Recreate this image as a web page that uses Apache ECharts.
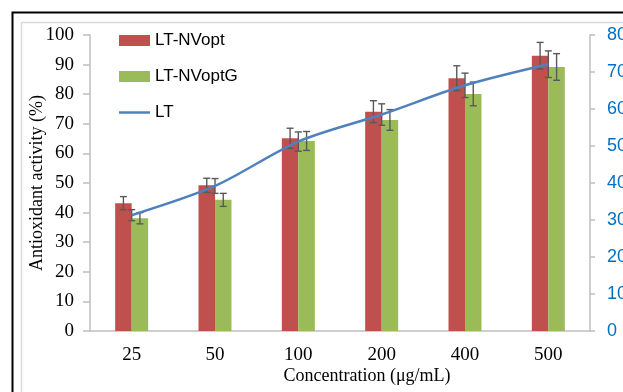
<!DOCTYPE html>
<html>
<head>
<meta charset="utf-8">
<script src="https://cdn.jsdelivr.net/npm/echarts@6/dist/echarts.min.js"></script>
<style>
  html, body { margin: 0; padding: 0; background: #fff; }
  #chart { width: 623px; height: 392px; }
</style>
</head>
<body>
<div id="chart"></div>
<script>
// Concentrations on the category axis
const concentrations = ['25', '50', '100', '200', '400', '500'];

// Antioxidant activity (%) with standard deviations, left axis
const nvoptValues = [43.2, 49.2, 65.1, 74.1, 85.4, 93.0];
const nvoptErrors = [2.2, 2.4, 3.4, 3.7, 4.2, 4.5];
const nvoptGValues = [38.1, 44.3, 64.2, 71.3, 80.1, 89.2];
const nvoptGErrors = [1.9, 2.2, 3.2, 3.5, 4.0, 4.5];

// LT series, plotted against the right axis
const ltValues = [31.3, 39.2, 51.2, 58.5, 66.4, 72.1];
const ltErrors = [1.5, 2.0, 2.6, 2.9, 3.3, 3.6];

const leftTicks = { min: 0, max: 100, interval: 10 };
const rightTicks = { min: 0, max: 80, interval: 10 };

const BAR_W = 16.5;
const CAP_W = 7;

function errorSeries(name, values, errors, axisIndex, shift) {
  return {
    type: 'custom',
    name: name,
    yAxisIndex: axisIndex,
    z: 4,
    silent: true,
    data: values.map((v, i) => [i, v - errors[i], v + errors[i]]),
    renderItem: function (params, api) {
      const lo = api.coord([api.value(0), api.value(1)]);
      const hi = api.coord([api.value(0), api.value(2)]);
      const x = lo[0] + shift;
      const style = { stroke: '#595959', lineWidth: 1.4 };
      return {
        type: 'group',
        children: [
          { type: 'line', shape: { x1: x, y1: hi[1], x2: x, y2: lo[1] }, style: style },
          { type: 'line', shape: { x1: x - CAP_W / 2, y1: hi[1], x2: x + CAP_W / 2, y2: hi[1] }, style: style },
          { type: 'line', shape: { x1: x - CAP_W / 2, y1: lo[1], x2: x + CAP_W / 2, y2: lo[1] }, style: style }
        ]
      };
    }
  };
}

const chart = echarts.init(document.getElementById('chart'), null, { renderer: 'canvas' });

chart.setOption({
  animation: false,
  backgroundColor: '#ffffff',
  grid: { left: 90, right: 33, top: 35, bottom: 61, containLabel: false, outerBoundsMode: 'none' },
  graphic: [
    {
      type: 'rect', z: 0, silent: true,
      shape: { x: 12.5, y: 12.5, width: 700, height: 500 },
      style: { fill: 'none', stroke: '#000', lineWidth: 2 }
    },
    {
      type: 'rect', z: 0, silent: true,
      shape: { x: 21.5, y: 22.5, width: 700, height: 500 },
      style: { fill: 'none', stroke: '#d9d9d9', lineWidth: 1.5 }
    },
    {
      type: 'text', z: 5, silent: true,
      x: 367, y: 376,
      style: {
        text: 'Concentration (μg/mL)',
        font: '18px "Liberation Serif", "Times New Roman", serif',
        fill: '#000', align: 'center', verticalAlign: 'middle'
      }
    },
    {
      type: 'text', z: 5, silent: true,
      x: 37, y: 183, rotation: Math.PI / 2,
      style: {
        text: 'Antioxidant activity (%)',
        font: '18px "Liberation Serif", "Times New Roman", serif',
        fill: '#000', align: 'center', verticalAlign: 'middle'
      }
    }
  ],
  legend: {
    orient: 'vertical',
    left: 119, top: 32,
    padding: 0,
    itemWidth: 31, itemHeight: 11,
    itemGap: 19,
    symbolKeepAspect: true,
    textStyle: { fontFamily: '"Liberation Sans", Arial, sans-serif', fontSize: 17, color: '#000' },
    data: [
      { name: 'LT-NVopt', icon: 'rect' },
      { name: 'LT-NVoptG', icon: 'rect' },
      { name: 'LT', icon: 'path://M0,0h31v2.5h-31z' }
    ]
  },
  xAxis: {
    type: 'category',
    data: concentrations,
    axisLine: { lineStyle: { color: '#bfbfbf', width: 1.5 } },
    axisTick: { show: false },
    axisLabel: {
      margin: 15,
      fontFamily: '"Liberation Serif", "Times New Roman", serif',
      fontSize: 19, color: '#000'
    }
  },
  yAxis: [
    {
      type: 'value',
      min: leftTicks.min, max: leftTicks.max, interval: leftTicks.interval,
      splitLine: { show: false },
      axisLine: { show: true, lineStyle: { color: '#bfbfbf', width: 1.5 } },
      axisTick: { show: true, length: 7, lineStyle: { color: '#bfbfbf', width: 1.5 } },
      axisLabel: {
        margin: 16,
        fontFamily: '"Liberation Serif", "Times New Roman", serif',
        fontSize: 19, color: '#000'
      }
    },
    {
      type: 'value',
      position: 'right',
      min: rightTicks.min, max: rightTicks.max, interval: rightTicks.interval,
      splitLine: { show: false },
      axisLine: { show: true, lineStyle: { color: '#bfbfbf', width: 1.5 } },
      axisTick: { show: true, length: 5, lineStyle: { color: '#bfbfbf', width: 1.5 } },
      axisLabel: {
        margin: 17,
        fontFamily: '"Liberation Sans", Arial, sans-serif',
        fontSize: 18, color: '#0070c0'
      }
    }
  ],
  series: [
    {
      name: 'LT-NVopt',
      type: 'bar',
      data: nvoptValues,
      barWidth: BAR_W,
      barGap: '0%',
      itemStyle: { color: '#c0504d' },
      z: 2
    },
    {
      name: 'LT-NVoptG',
      type: 'bar',
      data: nvoptGValues,
      barWidth: BAR_W,
      barGap: '0%',
      itemStyle: { color: '#9bbb59' },
      z: 2
    },
    {
      name: 'LT',
      type: 'line',
      yAxisIndex: 1,
      data: ltValues,
      smooth: 0.3,
      symbol: 'none',
      lineStyle: { color: '#4f81bd', width: 2.5 },
      itemStyle: { color: '#4f81bd' },
      z: 5
    },
    errorSeries('err-nvopt', nvoptValues, nvoptErrors, 0, -BAR_W / 2),
    errorSeries('err-nvoptg', nvoptGValues, nvoptGErrors, 0, BAR_W / 2),
    errorSeries('err-lt', ltValues, ltErrors, 1, 0)
  ]
});
</script>
</body>
</html>
